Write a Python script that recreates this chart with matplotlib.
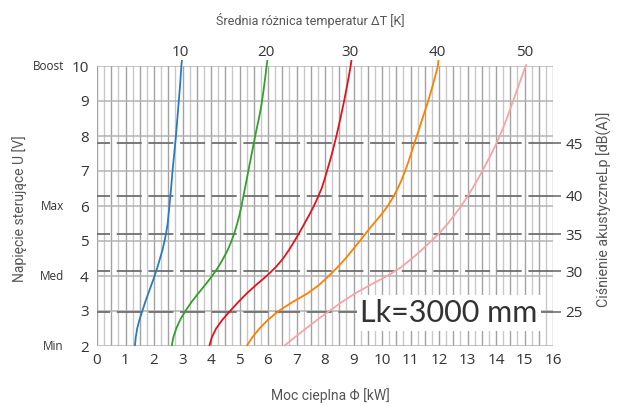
import matplotlib
matplotlib.use("Agg")
import matplotlib.pyplot as plt
import numpy as np

plt.rcParams['font.family'] = ['Open Sans', 'DejaVu Sans']
plt.rcParams['lines.scale_dashes'] = False

# Control voltage levels [V] at which each curve is sampled (2 V … 10 V in 0.25 V steps)
voltage = [2.0, 2.25, 2.5, 2.75, 3.0, 3.25, 3.5, 3.75, 4.0, 4.25, 4.5, 4.75,
           5.0, 5.25, 5.5, 5.75, 6.0, 6.25, 6.5, 6.75, 7.0, 7.25, 7.5, 7.75,
           8.0, 8.25, 8.5, 8.75, 9.0, 9.25, 9.5, 9.75, 10.0]

# Heat output [kW] for each mean temperature difference ΔT [K]
dt_labels = ['10', '20', '30', '40', '50']
power_dt10 = [1.33, 1.36, 1.41, 1.49, 1.59, 1.69, 1.80, 1.91, 2.02, 2.12, 2.21, 2.30,
              2.37, 2.43, 2.48, 2.51, 2.54, 2.57, 2.60, 2.625, 2.65, 2.68, 2.71, 2.74,
              2.77, 2.795, 2.82, 2.845, 2.87, 2.895, 2.92, 2.94, 2.96]
power_dt20 = [2.62, 2.68, 2.78, 2.92, 3.10, 3.31, 3.55, 3.80, 4.04, 4.25, 4.43, 4.59,
              4.72, 4.83, 4.92, 5.00, 5.07, 5.13, 5.19, 5.25, 5.31, 5.37, 5.43, 5.49,
              5.55, 5.615, 5.68, 5.74, 5.79, 5.835, 5.875, 5.915, 5.95]
power_dt30 = [3.94, 4.03, 4.18, 4.40, 4.67, 4.95, 5.25, 5.59, 5.95, 6.27, 6.53, 6.74,
              6.93, 7.11, 7.28, 7.45, 7.61, 7.75, 7.88, 7.98, 8.07, 8.16, 8.245, 8.325,
              8.40, 8.47, 8.54, 8.605, 8.67, 8.73, 8.79, 8.845, 8.90]
power_dt40 = [5.25, 5.45, 5.70, 6.00, 6.37, 6.85, 7.38, 7.80, 8.13, 8.44, 8.72, 8.97,
              9.22, 9.46, 9.71, 9.97, 10.20, 10.39, 10.55, 10.69, 10.81, 10.92, 11.02, 11.12,
              11.22, 11.32, 11.42, 11.52, 11.62, 11.71, 11.80, 11.88, 11.96]
power_dt50 = [6.56, 6.94, 7.33, 7.73, 8.15, 8.58, 9.05, 9.60, 10.18, 10.67, 11.05, 11.40,
              11.73, 12.04, 12.31, 12.55, 12.78, 12.98, 13.17, 13.35, 13.52, 13.68, 13.84, 13.99,
              14.13, 14.26, 14.38, 14.49, 14.60, 14.71, 14.82, 14.93, 15.04]
# Where each curve stops above the 10 V line
top_voltage = [10.17, 10.17, 10.17, 10.17, 10.05]
top_power = [2.98, 5.98, 8.93, 11.98, 15.07]
curve_colors = ['#2b7bba', '#33a02c', '#e3121b', '#ff8000', '#f7a3a8']

# Sound pressure level ticks [dB(A)] and the voltage each one corresponds to
spl_values = [25, 30, 35, 40, 45]
spl_voltage = [2.98, 4.13, 5.20, 6.29, 7.79]

# Named fan stages on the voltage axis
stage_names = ['Min', 'Med', 'Max', 'Boost']
stage_voltage = [2, 4, 6, 10]

x_ticks = list(range(0, 17))
y_ticks = list(range(2, 11))

fig = plt.figure(figsize=(6.19, 4.05), dpi=100)
W, H = 619, 405
left, right, bottom, top = 97, 553, 346, 66
ax = fig.add_axes([left / W, 1 - bottom / H, (right - left) / W, (bottom - top) / H])
ax.set_xlim(0, 16)
ax.set_ylim(2, 10)

for s in ax.spines.values():
    s.set_visible(False)

# Fine vertical grid every 0.25 kW, half-kW lines a little darker
for xv in np.arange(0, 16.001, 0.25):
    major = abs(xv * 2 - round(xv * 2)) < 1e-6
    ax.axvline(xv, color='#a2a2a2' if major else '#c8c8c8', lw=1.0, zorder=1)
for yv in y_ticks:
    ax.axhline(yv, color='#b3b3b3', lw=1.1, zorder=1)

# Dashed sound level lines
for v in spl_voltage:
    ax.axhline(v, color='#6f6f6f', lw=1.3, zorder=2, ls=(8.6, (18, 4.8)))

series = [power_dt10, power_dt20, power_dt30, power_dt40, power_dt50]
for vals, col, lab, tv, tp in zip(series, curve_colors, dt_labels, top_voltage, top_power):
    xs = vals + [tp]
    ys = voltage + [tv]
    ax.plot(xs, ys, color=col, lw=1.3, zorder=4, clip_on=False,
            solid_capstyle='butt', solid_joinstyle='round')
    ax.text(tp - 0.05, 10.38, lab, ha='center', va='center',
            fontsize=11, color='#333333')

ax.set_xticks(x_ticks)
ax.set_yticks(y_ticks)
ax.tick_params(axis='both', length=0, labelsize=11, labelcolor='#333333')
ax.tick_params(axis='x', pad=5)
ax.tick_params(axis='y', pad=6)

for name, v in zip(stage_names, stage_voltage):
    ax.annotate(name, xy=(0, v), xycoords=('axes fraction', 'data'),
                xytext=(-33, 0), textcoords='offset pixels',
                ha='right', va='center', fontsize=8.5, color='#333333')

ax2 = ax.twinx()
ax2.set_ylim(2, 10)
for s in ax2.spines.values():
    s.set_visible(False)
ax2.set_yticks(spl_voltage)
ax2.set_yticklabels([str(v) for v in spl_values])
ax2.tick_params(axis='y', length=6, width=1.2, color='#6f6f6f', pad=3,
                labelsize=11, labelcolor='#333333')

ax.text(12.35, 2.94, 'Lk=3000 mm', ha='center', va='center', fontsize=22,
        color='#333333', family=['Lato', 'DejaVu Sans'], zorder=6,
        bbox=dict(boxstyle='square,pad=0.12', facecolor='white', edgecolor='none'))

title_font = ['Roboto', 'DejaVu Sans']
fig.text(310 / W, 1 - 20 / H, 'Średnia różnica temperatur ΔT [K]', family=title_font,
         ha='center', va='center', fontsize=9.0, color='#555555')
fig.text(330 / W, 1 - 396 / H, 'Moc cieplna Φ [kW]', family=title_font,
         ha='center', va='center', fontsize=10, color='#555555')
fig.text(20 / W, 1 - 209 / H, 'Napięcie sterujące U [V]', rotation=90, family=title_font,
         ha='center', va='center', fontsize=10, color='#555555')
fig.text(604 / W, 1 - 209 / H, 'Ciśnienie akustyczneLp [dB(A)]', rotation=90, family=title_font,
         ha='center', va='center', fontsize=10.3, color='#555555')

fig.savefig('out.png', dpi=100)
